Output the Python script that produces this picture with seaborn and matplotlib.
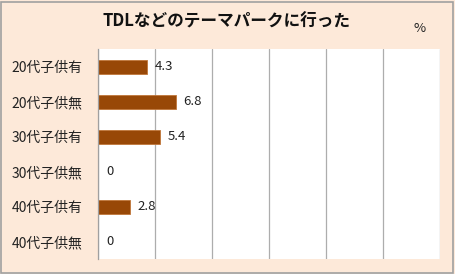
import matplotlib
matplotlib.use("Agg")
import matplotlib.pyplot as plt
import seaborn as sns
import pandas as pd
from matplotlib.patches import Rectangle

categories = ["20代子供有", "20代子供無", "30代子供有", "30代子供無", "40代子供有", "40代子供無"]
values = [4.3, 6.8, 5.4, 0, 2.8, 0]
title = "TDLなどのテーマパークに行った"
unit = "%"

sns.set_theme(style="white")
plt.rcParams['font.family'] = ['Noto Sans CJK JP', 'DejaVu Sans']

df = pd.DataFrame({"cat": categories, "val": values})

fig = plt.figure(figsize=(4.55, 2.74), dpi=100)
bg = "#FDE9D9"
fig.patch.set_facecolor(bg)
fig.patches.append(Rectangle((0.002, 0.004), 0.994, 0.99, transform=fig.transFigure,
                             fill=False, edgecolor="#A0A0A0", linewidth=1.2))

ax = fig.add_axes([98/455, 1 - 259/274, (440 - 98)/455, (259 - 49)/274])
ax.set_facecolor("white")
sns.barplot(data=df, x="val", y="cat", ax=ax, color="#984807", width=0.4,
            edgecolor="#C0763A", linewidth=0.6, saturation=1)
ax.set_xlim(0, 30)
ax.set_xticks(range(0, 31, 5))
ax.set_xticklabels([])
ax.xaxis.grid(True, color="#ADADAD", linewidth=0.9)
ax.set_axisbelow(True)
for s in ["top", "right", "bottom"]:
    ax.spines[s].set_visible(False)
ax.spines["left"].set_color("#A0A0A0")
ax.spines["left"].set_linewidth(0.9)
ax.set_xlabel("")
ax.set_ylabel("")
ax.tick_params(axis="y", length=0, pad=11, labelsize=10, labelcolor="#222222")
ax.tick_params(axis="x", length=0)

for i, v in enumerate(values):
    ax.text(v + 0.7, i, f"{v:g}", va="center", ha="left", fontsize=9.5, color="#222222")

fig.text(0.497, 1 - 22/274, title, ha="center", va="center", fontsize=12, fontweight="bold", color="#111111")
fig.text(420/455, 1 - 29/274, unit, ha="center", va="center", fontsize=9.5, color="#222222")

fig.savefig("out.png", dpi=100, facecolor=bg)
